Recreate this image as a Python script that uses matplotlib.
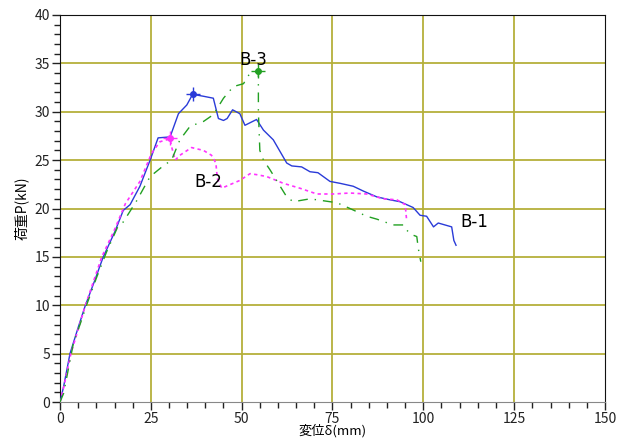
import matplotlib
matplotlib.use("Agg")
import matplotlib.pyplot as plt
from matplotlib.ticker import MultipleLocator

plt.rcParams['font.family'] = ['Noto Sans CJK JP', 'DejaVu Sans']

# B-1 (blue solid)
b1_x = [0, 1, 2.75, 5, 6.9, 9.5, 11.9, 15.1, 17.4, 19.3, 22, 24.8, 27, 30.3, 32.6, 34.9, 36.5,
        39.5, 42.2, 43.6, 45, 46, 47.5, 49.5, 50.9, 52.5, 54.1, 56, 58.7, 62.4, 63.8, 66.5,
        68.8, 71, 74.3, 77.1, 80.7, 83.5, 87.2, 90.8, 93.6, 97.2, 99.1, 100.9, 102.8,
        104.1, 107.8, 108.4, 109]
b1_y = [0, 1.6, 5, 7.7, 9.9, 12.5, 15, 17.6, 19.8, 20.4, 22.3, 25, 27.3, 27.4, 29.8, 30.7, 31.8,
        31.6, 31.4, 29.3, 29.1, 29.3, 30.2, 29.8, 28.6, 28.9, 29.2, 28.1, 27.1, 24.7, 24.4, 24.3,
        23.8, 23.7, 22.8, 22.6, 22.3, 21.8, 21.2, 20.9, 20.7, 20.1, 19.3, 19.2, 18.1,
        18.5, 18.1, 16.7, 16.2]
b1_peak = (36.5, 31.8)

# B-2 (magenta dotted)
b2_x = [0, 1, 3, 7, 11.5, 15, 18, 22, 25.2, 27.5, 30.3, 30.7, 31.7, 33, 36.2, 39.5, 41.7,
        42.9, 43.3, 44.5, 49.5, 52.3, 54.1, 56.9, 61.5, 66, 70.7, 75.2, 79.8, 84.4, 89,
        92.7, 95, 95.4]
b2_y = [0, 1.5, 5, 10, 15, 17.8, 20.5, 22.8, 25.7, 26.9, 27.2, 26.4, 25, 25.5, 26.3, 26, 25.5,
        24.7, 23.1, 22.1, 22.9, 23.6, 23.5, 23.3, 22.6, 22.1, 21.5, 21.5, 21.6, 21.5, 21,
        20.9, 20.4, 18.8]
b2_peak = (30.3, 27.3)

# B-3 (green dash-dot)
b3_x = [0, 1, 3.7, 5.5, 7.3, 10, 12.8, 16, 17.4, 21.1, 24.8, 28.4, 30.7, 33, 35.8, 39.5,
        42.2, 45, 47.7, 50.5, 52.3, 54.6, 54.6, 55, 56, 57.8, 60.1, 62.4, 64.2, 68.8,
        72.5, 76.2, 79.8, 84.4, 87.2, 91.7, 94.5, 95, 96.8, 98.2, 98.6, 99.3]
b3_y = [0, 0.9, 6.1, 8, 10, 12.8, 15.5, 18.2, 18.6, 20.8, 23.3, 24.4, 25, 27.1, 28.5, 29,
        29.7, 31.4, 32.6, 32.9, 34, 34.2, 30, 26, 25, 24, 22.6, 21.2, 20.7, 21,
        20.8, 20.6, 20, 19.2, 18.9, 18.3, 18.3, 17.9, 17.3, 17.1, 15.9, 14.5]
b3_peak = (54.6, 34.2)

labels = ["B-1", "B-2", "B-3"]
label_pos = [(114, 18.6), (40.7, 22.7), (53.1, 35.3)]

fig = plt.figure(figsize=(6.27, 4.41), dpi=100)
ax = fig.add_axes([60/627, 1-402/441, 545/627, 387/441])

grid_c = '#b5b03a'
for v in [25, 50, 75, 100, 125]:
    ax.axvline(v, color=grid_c, lw=1.3, zorder=1)
for v in [5, 10, 15, 20, 25, 30, 35]:
    ax.axhline(v, color=grid_c, lw=1.3, zorder=1)

c1, c2, c3 = '#2a3bd8', '#ff33ff', '#22a022'
ax.plot(b1_x, b1_y, color=c1, lw=1.0, zorder=3)
ax.plot(b2_x, b2_y, color=c2, lw=1.2, ls=(0, (2, 2)), zorder=3)
ax.plot(b3_x, b3_y, color=c3, lw=1.0, ls=(0, (7, 5, 1, 5)), zorder=3)

for (px, py), c in zip([b1_peak, b2_peak, b3_peak], [c1, c2, c3]):
    ax.plot([px], [py], marker='o', ms=4, color=c, zorder=4)
    ax.plot([px], [py], marker='+', ms=10, mew=1.0, color=c, zorder=4)

for t, (lx, ly) in zip(labels, label_pos):
    ax.text(lx, ly, t, fontsize=12, ha='center', va='center', color='black',
            family=['DejaVu Sans'], zorder=5)

ax.set_xlim(0, 150)
ax.set_ylim(0, 40)
ax.xaxis.set_major_locator(MultipleLocator(25))
ax.xaxis.set_minor_locator(MultipleLocator(5))
ax.yaxis.set_major_locator(MultipleLocator(5))
ax.yaxis.set_minor_locator(MultipleLocator(1))
ax.tick_params(which='major', direction='out', length=6, width=1, colors='#222222',
               labelsize=10, pad=1)
ax.tick_params(which='minor', direction='out', length=4, width=1, colors='#222222')
for s in ['left', 'top', 'right']:
    ax.spines[s].set_color('#111111')
ax.spines['bottom'].set_color('#888888')

ax.set_xlabel('変位δ(mm)', fontsize=9.5, labelpad=-1)
ax.set_ylabel('荷重P(kN)', fontsize=10, labelpad=4)

fig.savefig('out.png', dpi=100)
